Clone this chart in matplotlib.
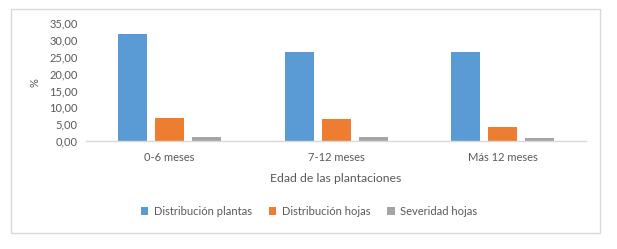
import matplotlib
matplotlib.use("Agg")
import matplotlib.pyplot as plt
from matplotlib.patches import Rectangle
import numpy as np

plt.rcParams['font.family'] = ['Lato', 'DejaVu Sans']

categories = ["0-6 meses", "7-12 meses", "Más 12 meses"]
series_names = ["Distribución plantas", "Distribución hojas", "Severidad hojas"]
dist_plantas = [31.7, 26.4, 26.4]
dist_hojas = [6.8, 6.5, 4.15]
severidad = [1.2, 1.2, 0.9]
colors = ["#5b9bd5", "#ed7d31", "#a5a5a5"]
yticks = [0, 5, 10, 15, 20, 25, 30, 35]

txt = "#595959"
fs = 8

fig = plt.figure(figsize=(6.17, 2.49), dpi=100)
W, H = 617, 249
ax = fig.add_axes([86 / W, (H - 141) / H, 500 / W, (141 - 23.3) / H])

x = np.arange(len(categories))
width = 0.174
step = 0.222
for k, (vals, name, c) in enumerate(zip([dist_plantas, dist_hojas, severidad], series_names, colors)):
    ax.bar(x + (k - 1) * step, vals, width=width, color=c, label=name)

ax.set_xlim(-0.5, 2.5)
ax.set_ylim(0, 35)
ax.set_yticks(yticks)
ax.set_yticklabels([f"{v:.2f}".replace(".", ",") for v in yticks], color=txt, fontsize=fs)
ax.set_xticks(x)
ax.set_xticklabels(categories, color=txt, fontsize=fs)
ax.tick_params(length=0, pad=8)
ax.tick_params(axis='y', pad=6)
for s in ["top", "right", "left"]:
    ax.spines[s].set_visible(False)
ax.spines["bottom"].set_color("#d9d9d9")
ax.spines["bottom"].set_linewidth(1)

ax.set_ylabel("%", color=txt, fontsize=fs, labelpad=6)
ax.set_xlabel("Edad de las plantaciones", color=txt, fontsize=fs + 0.8, labelpad=7)

leg = fig.legend(loc="center", bbox_to_anchor=(309 / W, (H - 211) / H), ncol=3, frameon=False,
                 fontsize=fs, handlelength=0.7, handleheight=0.7, columnspacing=1.5, handletextpad=0.5)
for t in leg.get_texts():
    t.set_color(txt)

fig.patches.append(Rectangle((11 / W, (H - 233) / H), 589 / W, 224 / H, transform=fig.transFigure,
                             fill=False, edgecolor="#d9d9d9", linewidth=1))

fig.savefig("out.png", dpi=100, facecolor="white")
